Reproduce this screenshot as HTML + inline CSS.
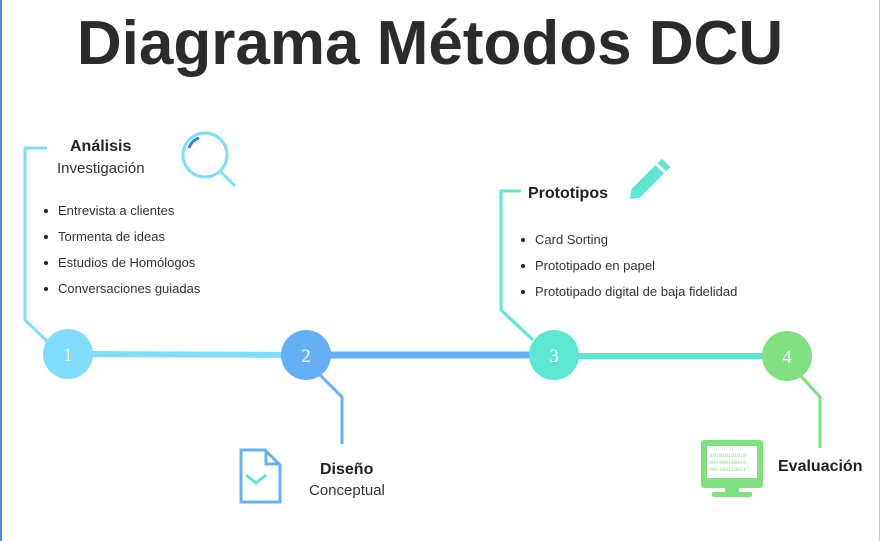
<!DOCTYPE html>
<html><head><meta charset="utf-8"><style>
body{margin:0;width:882px;height:541px;background:#fff;position:relative;overflow:hidden;font-family:"Liberation Sans",sans-serif;color:#222}
.t{position:absolute;white-space:nowrap}
ul{position:absolute;margin:0;padding:0;list-style:none;font-size:13px;line-height:26px;color:#333}
ul li{position:relative;padding-left:14px;white-space:nowrap}
ul li:before{content:"";position:absolute;left:0;top:11px;width:4px;height:4px;border-radius:50%;background:#222}
</style></head><body>
<div style="position:absolute;left:0;top:0;width:2px;height:541px;background:#4a90e2"></div>
<div style="position:absolute;right:2px;top:0;width:1px;height:541px;background:#ccc"></div>
<div class="t" style="left:0;width:860px;text-align:center;top:8px;font-size:62px;font-weight:bold;color:#2b2b2b">Diagrama Métodos DCU</div>
<svg width="882" height="541" style="position:absolute;left:0;top:0">
<polyline points="47,148 25,148 25,320 48,342" fill="none" stroke="#7fdcfb" stroke-width="3"/>
<polyline points="521,191 501,191 501,310 533,340" fill="none" stroke="#5de6d2" stroke-width="3"/>
<polyline points="320,375 342,397 342,444" fill="none" stroke="#64b0f7" stroke-width="3"/>
<polyline points="800,375 820,397 820,448" fill="none" stroke="#7ee07e" stroke-width="3"/>
<line x1="68" y1="354" x2="306" y2="355" stroke="#7fdcfb" stroke-width="6"/>
<line x1="306" y1="355" x2="554" y2="355" stroke="#64b0f7" stroke-width="7"/>
<line x1="554" y1="356" x2="787" y2="356" stroke="#5de6d2" stroke-width="6"/>
<circle cx="68" cy="354" r="25" fill="#7fdcfb"/>
<circle cx="306" cy="355" r="25" fill="#64b0f7"/>
<circle cx="554" cy="355" r="25" fill="#5de6d2"/>
<circle cx="787" cy="356" r="25" fill="#7ee07e"/>
<g fill="#fff" font-family="Liberation Serif,serif" font-size="19" text-anchor="middle">
<text x="68" y="361">1</text><text x="306" y="362">2</text><text x="554" y="362">3</text><text x="787" y="363">4</text></g>
<circle cx="205" cy="155" r="22" fill="none" stroke="#7fdcfb" stroke-width="3"/>
<line x1="220" y1="171" x2="235" y2="186" stroke="#7fdcfb" stroke-width="3"/>
<path d="M189,148 A16,16 0 0 1 199,138" fill="none" stroke="#3c7fd8" stroke-width="3"/>
<g transform="translate(630,199) rotate(-45)"><rect x="8" y="-6" width="34" height="12" fill="#5de6d2"/><rect x="45" y="-6" width="6" height="12" fill="#5de6d2"/><polygon points="0,0 8,-6 8,6" fill="#5de6d2"/></g>
<path d="M241,450 H265 L280,465 V502 H241 Z" fill="none" stroke="#64b0f7" stroke-width="3"/>
<path d="M266,451 V464 H279" fill="none" stroke="#64b0f7" stroke-width="3"/>
<polyline points="246,475 256,483 266,475" fill="none" stroke="#5de6d2" stroke-width="3"/>
<rect x="701" y="440" width="62" height="48" rx="3" fill="#7ee07e"/>
<rect x="707" y="446" width="50" height="32" fill="#fff"/>
<rect x="725" y="488" width="14" height="4" fill="#7ee07e"/>
<rect x="712" y="492" width="40" height="5" rx="2" fill="#7ee07e"/>
<g font-family="Liberation Mono,monospace" font-size="5" fill="#7ee07e"><text x="710" y="457">101010101010</text><text x="710" y="464">001000100010</text><text x="710" y="471">001100110011</text></g>
</svg>
<div class="t" style="left:70px;top:138px;font-size:16px;font-weight:bold">Análisis</div>
<div class="t" style="left:57px;top:160px;font-size:15px;color:#333">Investigación</div>
<ul style="left:44px;top:198px"><li>Entrevista a clientes</li><li>Tormenta de ideas</li><li>Estudios de Homólogos</li><li>Conversaciones guiadas</li></ul>
<div class="t" style="left:528px;top:185px;font-size:16px;font-weight:bold">Prototipos</div>
<ul style="left:521px;top:227px"><li>Card Sorting</li><li>Prototipado en papel</li><li>Prototipado digital de baja fidelidad</li></ul>
<div class="t" style="left:320px;top:461px;font-size:16px;font-weight:bold">Diseño</div>
<div class="t" style="left:309px;top:482px;font-size:15px;color:#333">Conceptual</div>
<div class="t" style="left:778px;top:458px;font-size:16px;font-weight:bold">Evaluación</div>
</body></html>
